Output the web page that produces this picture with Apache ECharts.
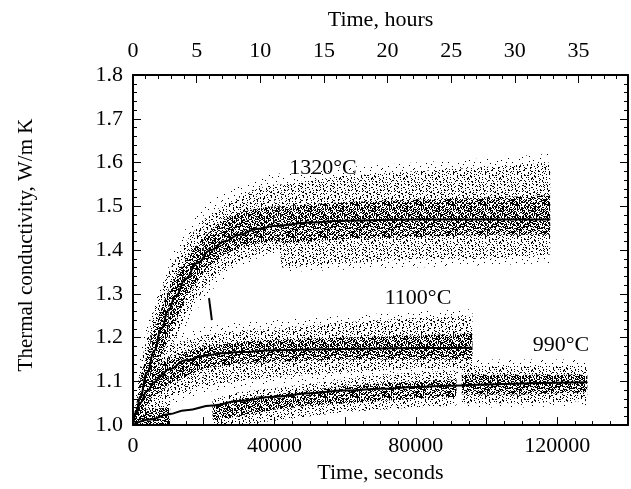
<!DOCTYPE html>
<html>
<head>
<meta charset="utf-8">
<script src="https://cdn.jsdelivr.net/npm/echarts@6/dist/echarts.min.js"></script>
<style>
  html, body { margin: 0; padding: 0; background: #fff; }
  #chart { width: 631px; height: 489px; }
</style>
</head>
<body>
<div id="chart"></div>
<script>
// ---- Fitted curves (time in seconds, conductivity in W/m K) ----
const t1320   = [0, 1000, 2000, 4000, 6000, 8000, 10000, 12000, 15000, 18000, 22000, 26000, 30000, 35000, 40000, 50000, 60000, 80000, 100000, 118000];
const fit1320 = [1.0, 1.033, 1.065, 1.12, 1.17, 1.22, 1.262, 1.295, 1.335, 1.37, 1.40, 1.42, 1.435, 1.448, 1.455, 1.463, 1.467, 1.47, 1.47, 1.47];

const t1100   = [0, 1000, 2000, 4000, 6000, 8000, 10000, 15000, 20000, 25000, 30000, 40000, 60000, 80000, 96000];
const fit1100 = [1.0, 1.028, 1.05, 1.078, 1.098, 1.114, 1.127, 1.148, 1.158, 1.164, 1.167, 1.171, 1.174, 1.176, 1.177];

const t990    = [0, 5000, 10000, 15000, 22500, 30000, 40000, 50000, 60000, 70000, 80000, 90000, 100000, 110000, 120000, 128500];
const fit990  = [1.0, 1.013, 1.025, 1.034, 1.045, 1.055, 1.065, 1.073, 1.079, 1.083, 1.087, 1.09, 1.093, 1.095, 1.097, 1.098];

// ---- Spread of the measured points: fringe, outer (sparse) and core (dense) envelopes ----
const tCloud1320  = [0, 2000, 5000, 10000, 15000, 20000, 25000, 30000, 35000, 40000, 41500, 42000, 60000, 80000, 100000, 118000];
const edgeLo1320  = [1.0, 1.0, 1.04, 1.13, 1.22, 1.29, 1.33, 1.36, 1.38, 1.39, 1.39, 1.35, 1.355, 1.36, 1.365, 1.37];
const edgeHi1320  = [1.0, 1.16, 1.27, 1.38, 1.45, 1.50, 1.53, 1.55, 1.565, 1.575, 1.575, 1.575, 1.59, 1.60, 1.61, 1.62];
const outLo1320   = [1.0, 1.0, 1.06, 1.16, 1.25, 1.31, 1.35, 1.375, 1.39, 1.40, 1.40, 1.36, 1.37, 1.38, 1.38, 1.39];
const outHi1320   = [1.0, 1.13, 1.24, 1.35, 1.42, 1.47, 1.50, 1.52, 1.54, 1.55, 1.55, 1.55, 1.57, 1.58, 1.59, 1.60];
const coreLo1320  = [1.0, 1.025, 1.09, 1.20, 1.29, 1.35, 1.385, 1.405, 1.415, 1.42, 1.42, 1.415, 1.425, 1.43, 1.435, 1.435];
const coreHi1320  = [1.0, 1.10, 1.20, 1.31, 1.38, 1.43, 1.465, 1.485, 1.495, 1.50, 1.50, 1.50, 1.51, 1.515, 1.52, 1.525];
const streak1320  = [[21500, 1.29], [22300, 1.24]];

const tCloud1100  = [0, 2000, 5000, 10000, 20000, 30000, 40000, 60000, 80000, 96000];
const edgeLo1100  = [1.0, 1.0, 1.02, 1.045, 1.075, 1.085, 1.095, 1.105, 1.115, 1.115];
const edgeHi1100  = [1.0, 1.12, 1.17, 1.20, 1.225, 1.235, 1.24, 1.25, 1.26, 1.265];
const outLo1100   = [1.0, 1.0, 1.03, 1.06, 1.09, 1.10, 1.11, 1.12, 1.13, 1.13];
const outHi1100   = [1.0, 1.10, 1.15, 1.18, 1.205, 1.215, 1.22, 1.235, 1.245, 1.25];
const coreLo1100  = [1.0, 1.02, 1.06, 1.09, 1.13, 1.14, 1.145, 1.15, 1.15, 1.15];
const coreHi1100  = [1.0, 1.07, 1.12, 1.155, 1.18, 1.19, 1.195, 1.20, 1.205, 1.21];

const tCloud990a  = [0, 3000, 10500];
const outLo990a   = [1.0, 1.0, 1.0];
const outHi990a   = [1.02, 1.05, 1.055];
const coreHi990a  = [1.012, 1.035, 1.04];
const tCloud990b  = [22500, 30000, 40000, 50000, 60000, 70000, 80000, 91500];
const outLo990b   = [1.0, 1.0, 1.01, 1.02, 1.03, 1.035, 1.04, 1.045];
const outHi990b   = [1.06, 1.075, 1.085, 1.095, 1.105, 1.115, 1.12, 1.125];
const coreLo990b  = [1.01, 1.02, 1.035, 1.045, 1.05, 1.055, 1.06, 1.065];
const coreHi990b  = [1.045, 1.06, 1.07, 1.08, 1.09, 1.095, 1.10, 1.105];
const tCloud990c  = [93000, 110000, 128500];
const edgeLo990c  = [1.04, 1.04, 1.045];
const edgeHi990c  = [1.15, 1.15, 1.15];
const outLo990c   = [1.05, 1.05, 1.055];
const outHi990c   = [1.135, 1.135, 1.135];
const coreLo990c  = [1.07, 1.07, 1.075];
const coreHi990c  = [1.115, 1.115, 1.115];

// ---- Curve labels ----
const curveLabels = ['1320°C', '1100°C', '990°C'];

// ---- Stipple textures for the point clouds ----
const TILE = 32;
const DOTS = [[3,1],[14,0],[25,2],[8,4],[19,5],[30,6],[1,8],[12,9],[23,10],[5,12],[16,13],[28,14],
              [9,16],[20,17],[2,19],[31,18],[13,21],[24,22],[6,23],[17,25],[27,26],[0,27],[10,28],
              [21,29],[4,30],[15,31],[29,30],[26,11],[7,7],[18,2],[22,15],[11,25],[27,20],[2,24],[14,17]];
const SHIFTS = [[0,0],[11,7],[5,19],[23,13],[17,26],[29,3],[8,29],[20,10],[14,22],[26,17],[3,12],[31,24],
                [9,2],[19,20],[25,28],[12,15],[1,25],[28,9],[16,4],[6,6]];
function stipple(shifts) {
  const c = document.createElement('canvas');
  c.width = c.height = TILE;
  const g = c.getContext('2d');
  g.fillStyle = '#000';
  shifts.forEach(([ox, oy]) => DOTS.forEach(([x, y]) => g.fillRect((x + ox) % TILE, (y + oy) % TILE, 1, 1)));
  return { image: c, repeat: 'repeat' };
}
const faint = stipple([[15, 9]]);
const sparse = stipple(SHIFTS.slice(0, 5));
const dense = stipple(SHIFTS.slice(5));

function band(t, lo, hi, fill) {
  return {
    type: 'custom', silent: true, z: 1,
    xAxisIndex: 0, yAxisIndex: 0,
    data: t.map((x, i) => [x, lo[i], hi[i]]),
    encode: { x: 0, y: [1, 2] },
    renderItem(params, api) {
      const i = params.dataIndex;
      if (i >= t.length - 1) return null;
      const pts = [
        api.coord([t[i], lo[i]]), api.coord([t[i + 1], lo[i + 1]]),
        api.coord([t[i + 1], hi[i + 1]]), api.coord([t[i], hi[i]])
      ];
      return { type: 'polygon', shape: { points: pts }, style: { fill: fill, stroke: null } };
    }
  };
}
function curve(t, v) {
  return {
    type: 'line', xAxisIndex: 0, yAxisIndex: 0, z: 3,
    data: t.map((x, i) => [x, v[i]]),
    showSymbol: false, smooth: true, smoothMonotone: 'x',
    lineStyle: { color: '#000', width: 2 }, silent: true
  };
}

const FONT = '"Liberation Serif", "Times New Roman", serif';
const text = { color: '#000', fontFamily: FONT, fontSize: 22 };
const frame = { show: true, onZero: false, lineStyle: { color: '#000', width: 2 } };
const major = { show: true, inside: true, length: 8, lineStyle: { color: '#000', width: 1 } };
const minor = (n) => ({ show: true, splitNumber: n, length: 4, lineStyle: { color: '#000', width: 1 } });

const chart = echarts.init(document.getElementById('chart'), null, { renderer: 'canvas' });
chart.setOption({
  animation: false,
  backgroundColor: '#fff',
  grid: { left: 133, right: 1, top: 75, bottom: 60, containLabel: false },
  xAxis: [
    {
      type: 'value', position: 'bottom', min: 0, max: 140000, interval: 20000,
      axisLine: frame, axisTick: major, minorTick: minor(4), splitLine: { show: false },
      axisLabel: Object.assign({ margin: 10, formatter: v => (v % 40000 === 0 ? String(v) : '') }, text),
      name: 'Time, seconds', nameLocation: 'middle', nameGap: 29, nameTextStyle: text
    },
    {
      type: 'value', position: 'top', min: 0, max: 140000 / 3600, interval: 5,
      axisLine: frame, axisTick: major, minorTick: minor(5), splitLine: { show: false },
      axisLabel: Object.assign({ margin: 13, formatter: v => (Math.abs(v % 5) < 1e-6 ? String(v) : '') }, text),
      name: 'Time, hours', nameLocation: 'middle', nameGap: 44, nameTextStyle: text
    }
  ],
  yAxis: [
    {
      type: 'value', position: 'left', min: 1.0, max: 1.8, interval: 0.1,
      axisLine: frame, axisTick: major, minorTick: minor(5), splitLine: { show: false },
      axisLabel: Object.assign({ margin: 10, formatter: v => v.toFixed(1) }, text)
    },
    {
      type: 'value', position: 'right', min: 1.0, max: 1.8, interval: 0.1,
      axisLine: frame, axisTick: major, minorTick: minor(5), splitLine: { show: false },
      axisLabel: { show: false }
    }
  ],
  graphic: [
    { type: 'text', x: 26, y: 245, rotation: Math.PI / 2,
      style: { text: 'Thermal conductivity, W/m K', font: '21px ' + FONT, fill: '#000', align: 'center', verticalAlign: 'middle' } },
    { type: 'text', x: 323, y: 168, style: { text: curveLabels[0], font: '22px ' + FONT, fill: '#000', align: 'center', verticalAlign: 'middle' } },
    { type: 'text', x: 418, y: 298, style: { text: curveLabels[1], font: '22px ' + FONT, fill: '#000', align: 'center', verticalAlign: 'middle' } },
    { type: 'text', x: 561, y: 345, style: { text: curveLabels[2], font: '22px ' + FONT, fill: '#000', align: 'center', verticalAlign: 'middle' } }
  ],
  series: [
    band(tCloud1320, edgeLo1320, edgeHi1320, faint),
    band(tCloud1320, outLo1320, outHi1320, sparse),
    band(tCloud1320, coreLo1320, coreHi1320, dense),
    band(tCloud1100, edgeLo1100, edgeHi1100, faint),
    band(tCloud1100, outLo1100, outHi1100, sparse),
    band(tCloud1100, coreLo1100, coreHi1100, dense),
    band(tCloud990a, outLo990a, outHi990a, sparse),
    band(tCloud990a, outLo990a, coreHi990a, dense),
    band(tCloud990b, outLo990b, outHi990b, sparse),
    band(tCloud990b, coreLo990b, coreHi990b, dense),
    band(tCloud990c, edgeLo990c, edgeHi990c, faint),
    band(tCloud990c, outLo990c, outHi990c, sparse),
    band(tCloud990c, coreLo990c, coreHi990c, dense),
    {
      type: 'line', xAxisIndex: 0, yAxisIndex: 0, z: 2, data: streak1320,
      showSymbol: false, lineStyle: { color: '#000', width: 2 }, silent: true
    },
    curve(t1320, fit1320),
    curve(t1100, fit1100),
    curve(t990, fit990)
  ]
});
</script>
</body>
</html>
